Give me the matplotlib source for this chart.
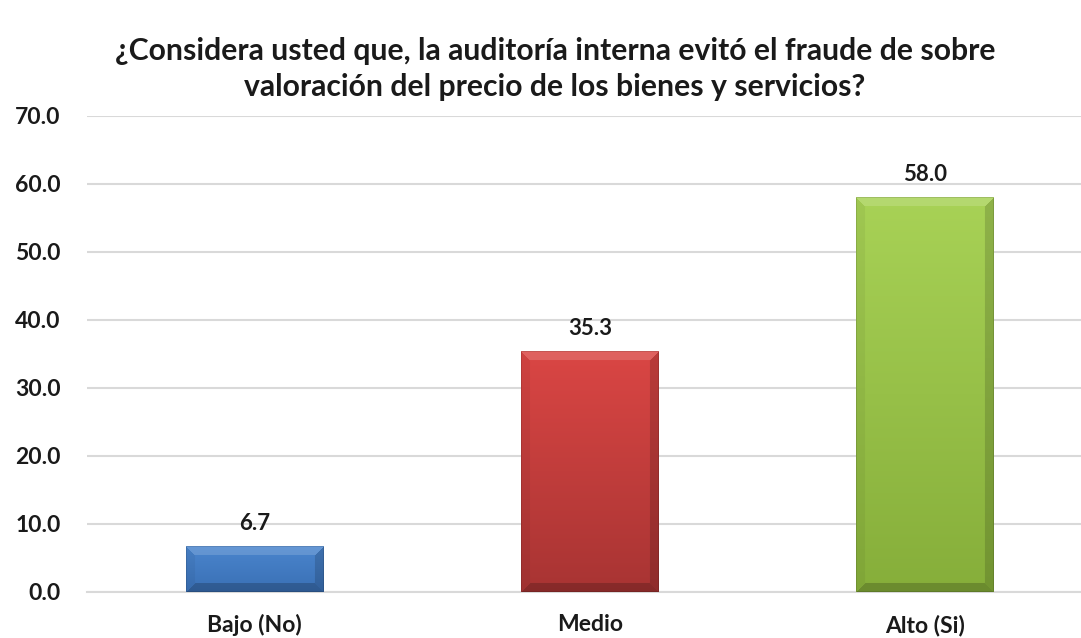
import numpy as np
import matplotlib
matplotlib.use("Agg")
import matplotlib.pyplot as plt
from matplotlib.colors import to_rgb

categories = ["Bajo (No)", "Medio", "Alto (Si)"]
values = [6.7, 35.3, 58.0]
value_labels = ["6.7", "35.3", "58.0"]
yticks = [0, 10, 20, 30, 40, 50, 60, 70]
title = "¿Considera usted que, la auditoría interna evitó el fraude de sobre\nvaloración del precio de los bienes y servicios?"

top_colors = ["#4A85CD", "#DA4644", "#A8D256"]
bottom_colors = ["#3A70B5", "#A83433", "#86AE3A"]

FONT = ["Lato", "DejaVu Sans"]
plt.rcParams["font.family"] = FONT

W, H = 1081, 638
fig = plt.figure(figsize=(W / 100, H / 100), dpi=100)
ax = fig.add_axes([87 / W, 46 / H, (W - 87) / W, 476 / H])

x = np.arange(len(categories))
bar_w = 0.41
bars = ax.bar(x, values, width=bar_w, color="none", zorder=3)
ax.set_xlim(-0.5, 2.465)
ax.set_ylim(0, 70)


def bevel_image(c_top, c_bot, w, h, b=9):
    h = max(int(round(h)), 2)
    w = max(int(round(w)), 2)
    yy, xx = np.mgrid[0:h, 0:w].astype(float)
    t = (yy / max(h - 1, 1))[..., None]
    ct = np.array(to_rgb(c_top))
    cb = np.array(to_rgb(c_bot))
    img = ct * (1 - t) + cb * t
    dl, dr, dt, db = xx, w - 1 - xx, yy, h - 1 - yy
    d = np.stack([dt, dl, dr, db])
    idx = np.argmin(d, axis=0)
    dmin = np.min(d, axis=0)
    edge = dmin < b
    out = img.copy()
    m = edge & (idx == 0)
    out[m] = out[m] * 0.85 + 0.15
    m = edge & (idx == 1)
    out[m] = out[m] * 0.95
    m = edge & (idx == 2)
    out[m] = out[m] * 0.85
    m = edge & (idx == 3)
    out[m] = out[m] * 0.8
    outline = dmin < 1
    out[outline] = out[outline] * 0.88
    return np.clip(out, 0, 1)


fig.canvas.draw()
for bar, ct, cb in zip(bars, top_colors, bottom_colors):
    x0, y0 = bar.get_x(), bar.get_y()
    x1, y1 = x0 + bar.get_width(), y0 + bar.get_height()
    p0 = ax.transData.transform((x0, y0))
    p1 = ax.transData.transform((x1, y1))
    img = bevel_image(ct, cb, p1[0] - p0[0], p1[1] - p0[1])
    ax.imshow(img, extent=(x0, x1, y0, y1), origin="upper", aspect="auto",
              interpolation="bilinear", zorder=3)
ax.set_aspect("auto")
ax.set_xlim(-0.5, 2.465)
ax.set_ylim(0, 70)

for xi, v, lab in zip(x, values, value_labels):
    ax.annotate(lab, (xi, v), xytext=(0, 12), textcoords="offset points",
                ha="center", va="baseline", fontsize=16, fontweight="bold",
                color="#1a1a1a", zorder=4)

ax.set_yticks(yticks)
ax.set_yticklabels([f"{t:.1f}" for t in yticks], fontsize=16.5, fontweight="bold", color="#1a1a1a")
ax.set_xticks(x)
ax.set_xticklabels(categories, fontsize=16.5, fontweight="bold", color="#1a1a1a")
ax.tick_params(axis="both", length=0)
ax.tick_params(axis="y", pad=19)
ax.tick_params(axis="x", pad=16)

ax.grid(axis="y", color="#D9D9D9", linewidth=1.5, zorder=0)
for s in ["top", "right", "left"]:
    ax.spines[s].set_visible(False)
ax.spines["bottom"].set_color("#D9D9D9")
ax.spines["bottom"].set_linewidth(1.5)

fig.text(555 / W, 1 - 69 / H, title, ha="center", va="center", fontsize=21.7,
         fontweight="bold", color="#1a1a1a", linespacing=1.38)

fig.savefig("out.png", dpi=100)
